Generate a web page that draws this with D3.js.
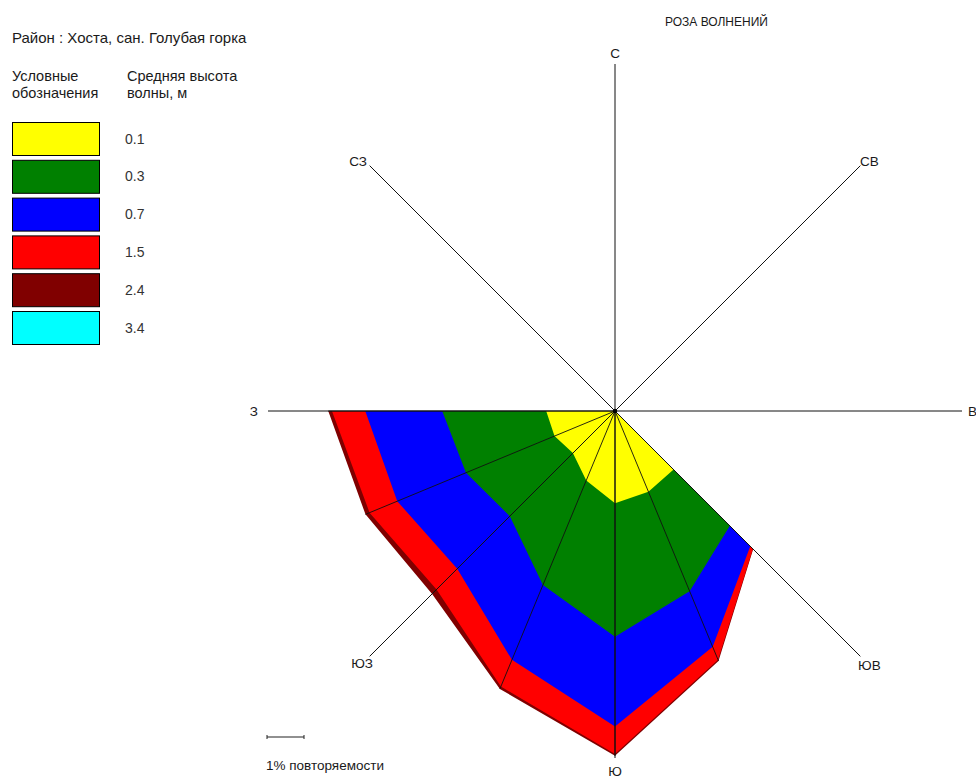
<!DOCTYPE html>
<html><head><meta charset="utf-8">
<script src="https://cdn.jsdelivr.net/npm/d3@7"></script>
<style>
html,body{margin:0;padding:0;background:#fff;}
text{font-family:"Liberation Sans",Arial,sans-serif;fill:#1a1a1a;}
</style></head>
<body>
<svg id="chart" width="976" height="778"></svg>
<script>
// ---- data ----
const directions = ["С","ССВ","СВ","ВСВ","В","ВЮВ","ЮВ","ЮЮВ","Ю","ЮЮЗ","ЮЗ","ЗЮЗ","З","ЗСЗ","СЗ","ССЗ"];
const mainLabels = ["С","СВ","В","ЮВ","Ю","ЮЗ","З","СЗ"];
const heightLabels = ["0.1","0.3","0.7","1.5","2.4","3.4"];
const colors = ["#ffff00","#008000","#0000ff","#ff0000","#800000","#00ffff"];
// repeatability (%) per direction, per wave height class (С ... ССЗ)
const h01 = [0,0,0,0,0,0,2.24,2.36,2.49,2.03,1.61,1.77,1.86,0,0,0];
const h03 = [0,0,0,0,0,0,2.15,2.91,3.61,3.06,2.41,2.59,2.81,0,0,0];
const h07 = [0,0,0,0,0,0,0.78,1.63,2.43,2.19,2.01,2.01,2.08,0,0,0];
const h15 = [0,0,0,0,0,0,0.10,0.38,0.74,0.78,0.79,0.81,0.90,0,0,0];
const h24 = [0,0,0,0,0,0,0.01,0.03,0.05,0.07,0.17,0.12,0.10,0,0,0];
const h34 = [0,0,0,0,0,0,0,0,0,0,0,0,0,0,0,0];
const series = [h01,h03,h07,h15,h24,h34];
const titleText = "РОЗА ВОЛНЕНИЙ";
const regionText = "Район : Хоста, сан. Голубая горка";

// ---- layout ----
const svg = d3.select("#chart");
const cx = 615, cy = 411, R = 347;
const r = d3.scaleLinear().domain([0,1]).range([0,37]);
const ang = d3.scaleLinear().domain([0,16]).range([0,2*Math.PI]);
const pt = (i,v)=>[cx + r(v)*Math.sin(ang(i)), cy - r(v)*Math.cos(ang(i))];

// cumulative
const cum = [];
series.forEach((s,k)=>{ cum.push(s.map((v,i)=> v + (k? cum[k-1][i]:0))); });
const active = d3.range(16).filter(i=>series.some(s=>s[i]>0));

const g = svg.append("g");
for(let k=series.length-1;k>=0;k--){
  if(!series[k].some(v=>v>0)) continue;
  const pts = [[cx,cy]].concat(active.map(i=>pt(i,cum[k][i])));
  g.append("path").attr("d", d3.line()(pts)+"Z").attr("fill",colors[k]).attr("stroke","none");
}
const total = cum[cum.length-1];
active.forEach(i=>{
  const p = pt(i,total[i]);
  g.append("line").attr("x1",cx).attr("y1",cy).attr("x2",p[0]).attr("y2",p[1])
   .attr("stroke","#111").attr("stroke-width",0.9);
});
mainLabels.forEach((lab,j)=>{
  const a = ang(j*2);
  g.append("line").attr("x1",cx).attr("y1",cy)
   .attr("x2",cx+R*Math.sin(a)).attr("y2",cy-R*Math.cos(a))
   .attr("stroke","#111").attr("stroke-width",1);
});
g.append("circle").attr("cx",cx).attr("cy",cy).attr("r",2.2).attr("fill","#000");

// direction labels
const fs = "13.5px";
const lab = (t,x,y,anchor)=>svg.append("text").text(t).attr("x",x).attr("y",y)
  .attr("text-anchor",anchor).style("font-size",fs);
const d = R*Math.SQRT1_2;
lab("С", cx, 58, "middle");
lab("Ю", cx, 776, "middle");
lab("З", cx-R-10, cy+5, "end");
lab("В", 968, cy+5, "start");
lab("СЗ", 367, 166, "end");
lab("СВ", 860, 166, "start");
lab("ЮЗ", 373, 668, "end");
lab("ЮВ", 858, 670, "start");

// titles
svg.append("text").text(titleText).attr("x",665).attr("y",26).style("font-size","12px");
svg.append("text").text(regionText).attr("x",12).attr("y",43).style("font-size","15px");
svg.append("text").text("Условные").attr("x",12).attr("y",81).style("font-size","14.5px");
svg.append("text").text("обозначения").attr("x",12).attr("y",98).style("font-size","14.5px");
svg.append("text").text("Средняя высота").attr("x",127).attr("y",81).style("font-size","14.5px");
svg.append("text").text("волны, м").attr("x",127).attr("y",98).style("font-size","14.5px");

// legend
heightLabels.forEach((h,k)=>{
  const y = 122 + k*37.8;
  svg.append("rect").attr("x",12.5).attr("y",y+0.5).attr("width",87).attr("height",33)
    .attr("fill",colors[k]).attr("stroke","#000").attr("stroke-width",1);
  svg.append("text").text(h).attr("x",125).attr("y",y+21.5).style("font-size","14px").style("fill","#333");
});

// scale bar
const sx = 267, sy = 737, sl = r(1);
svg.append("line").attr("x1",sx).attr("y1",sy).attr("x2",sx+sl).attr("y2",sy).attr("stroke","#222").attr("stroke-width",1.2);
svg.append("line").attr("x1",sx).attr("y1",sy-2).attr("x2",sx).attr("y2",sy+2).attr("stroke","#222");
svg.append("line").attr("x1",sx+sl).attr("y1",sy-2).attr("x2",sx+sl).attr("y2",sy+2).attr("stroke","#222");
svg.append("text").text("1% повторяемости").attr("x",266).attr("y",770).style("font-size","13.5px");
</script>
</body></html>
